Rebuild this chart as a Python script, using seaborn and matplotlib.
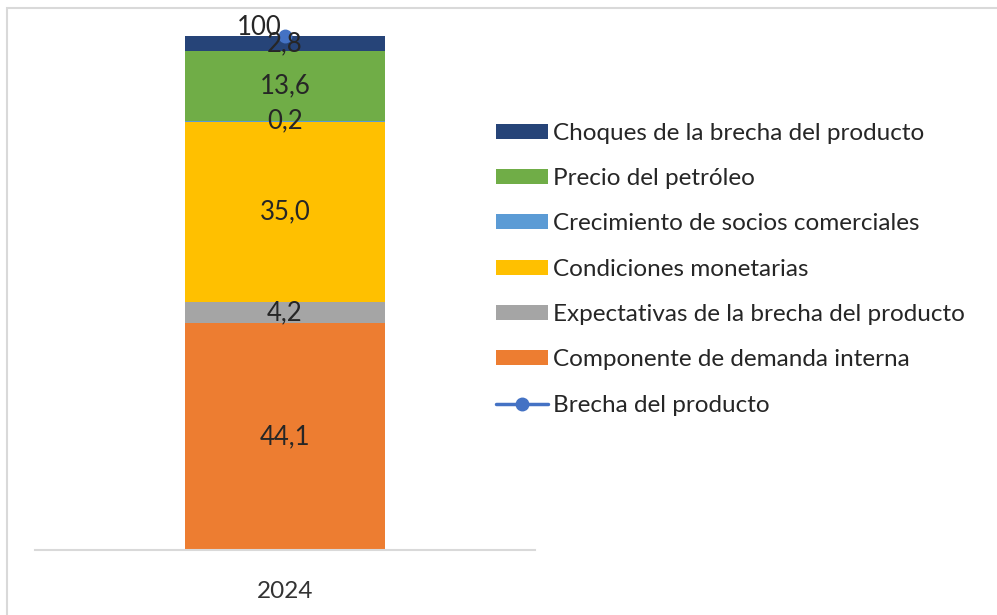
import numpy as np
import pandas as pd
import seaborn as sns
import matplotlib.pyplot as plt
from matplotlib.patches import Patch, Rectangle
from matplotlib.lines import Line2D

sns.set_theme(style="white")
plt.rcParams['font.family'] = ['Lato', 'DejaVu Sans']

# data (bottom to top)
years = ["2024"]
components = ["Componente de demanda interna",
              "Expectativas de la brecha del producto",
              "Condiciones monetarias",
              "Crecimiento de socios comerciales",
              "Precio del petróleo",
              "Choques de la brecha del producto"]
values = [44.1, 4.2, 35.0, 0.2, 13.6, 2.8]
labels = ["44,1", "4,2", "35,0", "0,2", "13,6", "2,8"]
brecha = [100]
brecha_label = ["100"]

colors = ["#ED7D31", "#A5A5A5", "#FFC000", "#5B9BD5", "#70AD47", "#264478"]
line_color = "#4472C4"
txt = "#262626"

tops = np.cumsum(values)
bottoms = tops - np.array(values)

fig = plt.figure(figsize=(9.97, 6.15), dpi=100)
ax = fig.add_axes([35 / 997, (615 - 550) / 615, 500 / 997, 540 / 615])

# stacked bar: draw cumulative totals from the top down
for i in range(len(values) - 1, -1, -1):
    df = pd.DataFrame({"year": years, "total": [tops[i]]})
    sns.barplot(data=df, x="year", y="total", color=colors[i], width=0.4,
                saturation=1, ax=ax, edgecolor="none", linewidth=0)

for b, v, lab in zip(bottoms, values, labels):
    ax.text(0, b + v / 2, lab, ha="center", va="center", fontsize=18.5, color=txt)

ax.plot([0], brecha, marker="o", markersize=9, color=line_color, lw=2.5)
ax.text(-0.052, brecha[0] + 1.6, brecha_label[0], ha="center", va="center",
        fontsize=18.5, color=txt)

ax.set_xlim(-0.5, 0.5)
ax.set_ylim(0, 105)
ax.set_yticks([])
ax.set_xlabel("")
ax.set_ylabel("")
for s in ["top", "right", "left"]:
    ax.spines[s].set_visible(False)
ax.spines["bottom"].set_color("#D9D9D9")
ax.spines["bottom"].set_linewidth(1.5)
ax.tick_params(axis="x", length=0, pad=22, labelsize=17.5, labelcolor="#333333")

handles = [Patch(facecolor=c, edgecolor="none") for c in colors[::-1]]
handles.append(Line2D([0], [0], color=line_color, lw=2.5, marker="o", markersize=9))
leg = fig.legend(handles, components[::-1] + ["Brecha del producto"],
                 loc="upper left", bbox_to_anchor=(486 / 997, 1 - 113 / 615),
                 frameon=False, fontsize=17.5, labelspacing=1.0,
                 handlelength=2.14, handleheight=0.57, handletextpad=0.2,
                 borderaxespad=0)
for t in leg.get_texts():
    t.set_color(txt)

# light grey frame around the chart area
fig.patches.append(Rectangle((7 / 997, -0.1), 1.1, 1.1 - 8 / 615, transform=fig.transFigure,
                             fill=False, edgecolor="#D9D9D9", linewidth=1.5))

fig.savefig("out.png", dpi=100)
